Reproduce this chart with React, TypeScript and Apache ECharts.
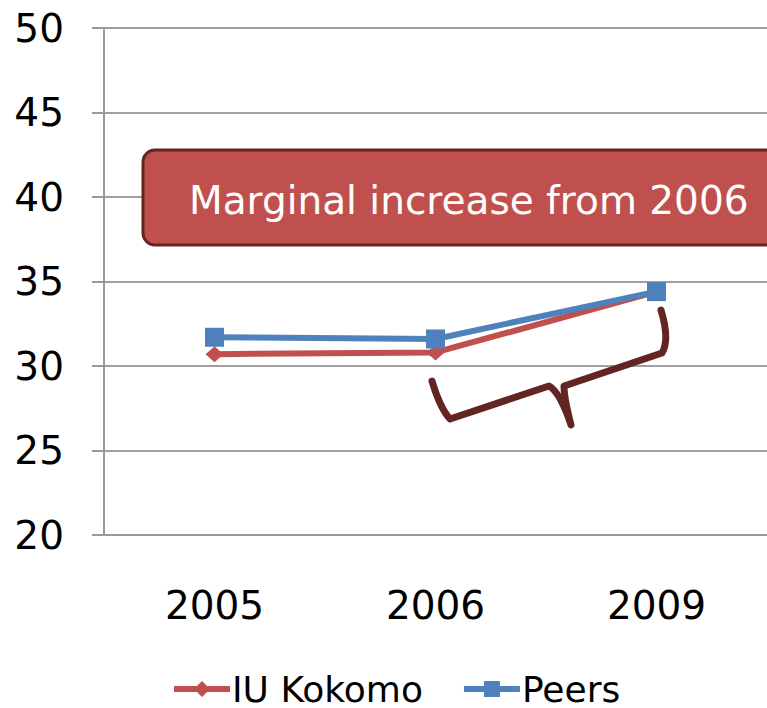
import React, { useEffect, useRef } from "react";
import * as echarts from "echarts";

const categories = ["2005", "2006", "2009"];
const kokomo = [30.7, 30.8, 34.4];
const peers = [31.7, 31.6, 34.4];
const seriesNames = ["IU Kokomo", "Peers"];
const calloutText = "Marginal increase from 2006";

const bracePath =
  "M 432 381 Q 440 408 450 419 L 549 386 Q 560 392 571 425 Q 564 398 564 386 L 662 353 Q 670 340 661 310";

export default function App() {
  const ref = useRef<HTMLDivElement>(null);
  useEffect(() => {
    document.body.style.margin = "0";
    try {
      echarts.graphic.registerShape("brace", echarts.graphic.extendPath(bracePath, {}));
    } catch (e) {}
    const chart = echarts.init(ref.current!, undefined, { renderer: "svg" });
    const font = "DejaVu Sans";
    chart.setOption({
      animation: false,
      textStyle: { fontFamily: font },
      grid: { left: 104, right: 0, top: 28, bottom: 173 },
      legend: {
        bottom: -4,
        left: 166,
        itemWidth: 56,
        itemHeight: 20,
        itemGap: 38,
        lineStyle: { width: 6 },
        textStyle: { fontFamily: font, fontSize: 36, color: "#000", padding: [0, 0, 0, -3] },
        data: seriesNames,
      },
      xAxis: {
        type: "category",
        data: categories,
        axisLine: { lineStyle: { color: "#999", width: 2 } },
        axisTick: { length: 14, lineStyle: { color: "#999", width: 2 } },
        axisLabel: { fontSize: 39, color: "#000", margin: 51, fontFamily: font },
      },
      yAxis: {
        type: "value",
        min: 20,
        max: 50,
        interval: 5,
        axisLine: { show: true, lineStyle: { color: "#999", width: 2 } },
        axisTick: { show: true, length: 12, lineStyle: { color: "#999", width: 2 } },
        splitLine: { lineStyle: { color: "#a0a0a0", width: 2 } },
        axisLabel: { fontSize: 39, color: "#000", margin: 40, fontFamily: font },
      },
      series: [
        {
          name: seriesNames[0],
          type: "line",
          data: kokomo,
          symbol: "diamond",
          symbolSize: [18, 16],
          lineStyle: { color: "#C0504D", width: 6 },
          itemStyle: { color: "#C0504D" },
        },
        {
          name: seriesNames[1],
          type: "line",
          data: peers,
          symbol: "rect",
          symbolSize: 19,
          lineStyle: { color: "#4F81BD", width: 6 },
          itemStyle: { color: "#4F81BD" },
        },
      ],
      graphic: [
        {
          type: "rect",
          z: 100,
          shape: { x: 143, y: 150, width: 660, height: 95, r: 12 },
          style: { fill: "#C0504D", stroke: "#632523", lineWidth: 3 },
        },
        {
          type: "text",
          z: 101,
          x: 189,
          y: 200,
          style: {
            text: calloutText,
            fill: "#fff",
            font: `39px "${font}"`,
            textVerticalAlign: "middle",
            verticalAlign: "middle",
          },
        },
        {
          type: "brace",
          z: 100,
          x: 0,
          y: 0,
          style: { fill: "none", stroke: "#632523", lineWidth: 7, lineCap: "round", lineJoin: "round" },
        },
      ],
    });
    return () => chart.dispose();
  }, []);
  return <div ref={ref} style={{ width: 767, height: 708 }} />;
}
